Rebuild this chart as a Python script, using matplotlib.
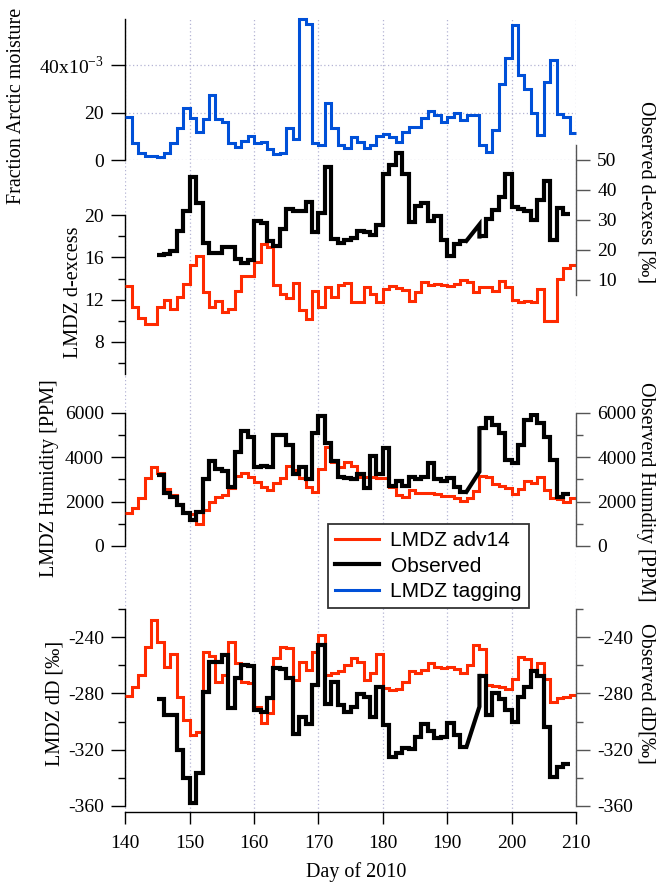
import numpy as np
import matplotlib
matplotlib.use('Agg')
import matplotlib.pyplot as plt
from matplotlib.lines import Line2D

plt.rcParams['font.family'] = ['Liberation Serif', 'DejaVu Serif']
plt.rcParams['mathtext.fontset'] = 'custom'
plt.rcParams['mathtext.rm'] = 'Liberation Serif'
plt.rcParams['axes.unicode_minus'] = False

# ---------------- data (daily values) ----------------
# model series: one value per day 140..209
model_edges = np.arange(140, 211)

arctic_frac = np.array([
    18.0, 7.4, 2.9, 1.8, 1.6, 1.5, 2.9, 7.1, 13.7, 21.8,
    17.6, 12.0, 17.3, 27.4, 17.3, 15.9, 7.4, 5.7, 8.1, 10.2,
    7.1, 7.8, 4.8, 2.7, 2.9, 13.7, 8.8, 59.5, 57.4, 7.1,
    6.4, 24.2, 13.4, 6.4, 5.3, 9.9, 7.8, 5.3, 6.4, 10.3,
    11.0, 9.9, 7.8, 12.0, 13.8, 13.8, 17.6, 20.7, 19.0, 16.2,
    18.0, 19.7, 16.9, 19.0, 19.0, 6.4, 3.6, 12.7, 31.9, 43.2,
    56.7, 35.8, 29.9, 20.0, 10.6, 33.0, 42.1, 19.3, 18.3, 11.6]) * 1e-3

lmdz_dex = [
    13.3, 11.3, 10.3, 9.7, 9.7, 11.3, 12.0, 11.1, 12.3, 13.5,
    15.3, 16.1, 12.7, 11.3, 11.9, 10.8, 11.1, 12.8, 14.2, 14.2,
    15.6, 17.3, 17.0, 13.4, 12.5, 12.2, 13.6, 11.0, 10.2, 12.8,
    11.3, 13.2, 12.3, 13.4, 13.6, 11.8, 11.8, 13.2, 12.5, 11.8,
    13.0, 13.3, 13.1, 12.9, 11.9, 12.7, 13.7, 13.4, 13.5, 13.4,
    13.3, 13.5, 13.9, 13.7, 12.7, 13.2, 13.2, 12.8, 13.8, 13.2,
    12.0, 11.8, 11.9, 11.8, 13.0, 10.0, 10.0, 14.0, 15.0, 15.3]

lmdz_hum = [
    1470, 1695, 2145, 3045, 3540, 3300, 2550, 2295, 1890, 1545,
    1440, 990, 1600, 1995, 2220, 2295, 2600, 3150, 3300, 3120,
    2895, 2670, 2520, 2820, 3045, 3600, 3420, 3045, 2670, 2445,
    3450, 4470, 3795, 3540, 3795, 3600, 3120, 3120, 3120, 3045,
    3045, 2670, 2295, 2220, 2520, 2400, 2400, 2400, 2340, 2250,
    2250, 2145, 2040, 2145, 2490, 3150, 3120, 2790, 2700, 2595,
    2340, 2550, 2940, 2820, 3120, 2520, 2145, 2100, 2000, 2145]

lmdz_dD = [
    -281.8, -275.2, -266.8, -246.7, -227.6, -243.1, -261.3, -251.9, -282.5, -298.9,
    -309.6, -307.2, -250.2, -253.3, -271.6, -266.8, -243.1, -258.5, -271.6, -272.7,
    -289.4, -301.3, -294.1, -254.9, -246.7, -247.8, -270.4, -257.3, -263.3, -250.2,
    -238.3, -266.8, -265.6, -263.8, -259.7, -254.9, -257.3, -270.4, -265.6, -251.9,
    -276.3, -277.5, -277.0, -271.6, -263.8, -265.6, -263.3, -258.0, -261.3, -262.1,
    -260.9, -262.8, -265.6, -259.7, -245.4, -248.5, -274.0, -274.7, -275.6, -277.0,
    -269.9, -254.2, -255.6, -263.3, -258.0, -269.9, -285.9, -283.4, -282.3, -281.1]

# observations: days 145..192, a gap, then days 195..208
obs_edges_a = np.arange(145, 194)
obs_edges_b = np.arange(195, 210)
gap_days = [193, 195]

obs_dex_a = [
    18.3, 18.7, 19.8, 26.4, 33.1, 44.4, 35.8, 22.4, 18.9, 18.9,
    21.1, 21.1, 16.9, 15.8, 16.7, 29.7, 29.1, 23.0, 21.3, 26.9,
    33.6, 33.1, 33.1, 36.1, 26.1, 32.4, 47.6, 23.6, 22.4, 23.3,
    24.1, 26.4, 26.1, 25.0, 28.3, 45.3, 48.3, 52.4, 45.3, 29.4,
    34.7, 35.8, 29.8, 31.3, 23.3, 18.0, 21.9, 23.1]
obs_dex_gap = 28.5
obs_dex_b = [24.5, 30.2, 33.3, 37.8, 45.3, 34.4, 33.7, 33.1, 30.0, 36.7,
             43.1, 23.3, 33.9, 32.0]

obs_hum_a = [
    3195, 2400, 2220, 1845, 1470, 1170, 1545, 3000, 3840, 3450,
    3390, 2670, 4245, 5190, 4890, 3540, 3600, 3540, 4995, 4995,
    4545, 3240, 3540, 3015, 5070, 5850, 4650, 3840, 3120, 3045,
    3000, 3240, 2595, 4050, 3240, 4395, 2700, 2940, 2700, 3120,
    3000, 3120, 3750, 3000, 2925, 3045, 2670, 2445]
obs_hum_gap = 3345
obs_hum_b = [5295, 5745, 5445, 5070, 3870, 3720, 4545, 5670, 5895, 5520,
             4920, 3870, 2220, 2340]

obs_dD_a = [
    -284.1, -295.3, -295.3, -320.0, -340.0, -358.0, -337.0, -279.0, -257.3, -257.3,
    -252.6, -290.6, -269.2, -259.7, -260.4, -291.8, -293.0, -283.4, -262.1, -262.8,
    -269.2, -308.9, -296.5, -301.8, -274.0, -245.4, -287.5, -271.6, -288.2, -293.0,
    -289.4, -280.4, -282.8, -297.0, -275.6, -302.5, -325.0, -322.2, -319.1, -319.8,
    -310.8, -301.8, -306.5, -312.0, -310.8, -301.3, -309.6, -317.9]
obs_dD_gap = -289.4
obs_dD_b = [-267.5, -295.3, -279.4, -284.2, -291.8, -300.1, -282.3, -275.6, -263.8, -267.5,
            -303.7, -339.3, -332.2, -330.3]

x_ticks = [140, 150, 160, 170, 180, 190, 200, 210]

# ---------------- style ----------------
RED = '#ff2a00'
BLUE = '#0050d8'
BLACK = 'black'
GRID = '#b4b4d4'
RGRAY = '#555555'
FS = 14          # tick labels
LFS = 14.5       # axis titles

W, H = 662, 884
X0, X1 = 125.3, 576.0

fig = plt.figure(figsize=(W / 100, H / 100), dpi=100)


def rect(top, bottom):
    # axes box from pixel rows (top, bottom)
    return [X0 / W, 1 - bottom / H, (X1 - X0) / W, (bottom - top) / H]


def panel(top, bottom, side):
    ax = fig.add_axes(rect(top, bottom), zorder=1)
    ax.patch.set_visible(False)
    ax.set_xlim(140, 210)
    ax.set_xticks([])
    for s in ax.spines:
        ax.spines[s].set_visible(s == side)
    col = BLACK if side == 'left' else RGRAY
    ax.spines[side].set_color(col)
    ax.spines[side].set_linewidth(1.0)
    ax.yaxis.set_ticks_position(side)
    ax.tick_params(axis='y', which='major', direction='out', length=10.3,
                   width=1.0, color=col, pad=5, labelsize=FS)
    ax.tick_params(axis='y', which='minor', direction='out', length=5.2,
                   width=1.0, color=col)
    return ax


def obs_line(ax, a, gap, b):
    ax.stairs(a, obs_edges_a, baseline=None, color=BLACK, lw=3.0, zorder=3)
    ax.plot([gap_days[0], gap_days[1], gap_days[1]], [a[-1], gap, b[0]],
            color=BLACK, lw=3.0, zorder=3, solid_joinstyle='miter')
    ax.stairs(b, obs_edges_b, baseline=None, color=BLACK, lw=3.0, zorder=3)


# background axis: day axis + vertical dotted grid
bg = fig.add_axes(rect(19, 811.5), zorder=0)
bg.patch.set_visible(False)
bg.set_xlim(140, 210)
bg.set_ylim(0, 1)
for s in ['left', 'right', 'top']:
    bg.spines[s].set_visible(False)
bg.spines['bottom'].set_linewidth(1.0)
bg.set_yticks([])
bg.set_xticks(x_ticks)
bg.tick_params(axis='x', direction='out', length=8.6, width=1.0, pad=8,
               labelsize=FS)
bg.grid(axis='x', color=GRID, linestyle=(0, (1, 2)), linewidth=0.9)

# top panel: fraction of arctic moisture
ax_top = panel(19, 160.3, 'left')
ax_top.set_ylim(0, 0.0594)
ax_top.set_yticks([0, 0.02, 0.04], labels=['0', '20', '40x10$^{-3}$'])
ax_top.grid(axis='y', color=GRID, linestyle=(0, (1, 2)), linewidth=0.9)
ax_top.stairs(arctic_frac, model_edges, baseline=None, color=BLUE, lw=2.2,
              zorder=3, clip_on=False)

# d-excess
ax_dex = panel(215.3, 373.5, 'left')
ax_dex.set_ylim(5, 20)
ax_dex.set_yticks([8, 12, 16, 20])
ax_dex.set_yticks([6, 10, 14, 18], minor=True)
ax_dex.stairs(lmdz_dex, model_edges, baseline=None, color=RED, lw=2.2, zorder=3)

ax_dex_r = panel(145, 295, 'right')
ax_dex_r.set_ylim(5, 55)
ax_dex_r.set_yticks([10, 20, 30, 40, 50])
obs_line(ax_dex_r, obs_dex_a, obs_dex_gap, obs_dex_b)

# humidity
ax_hum = panel(412.7, 546, 'left')
ax_hum.set_ylim(0, 6000)
ax_hum.set_yticks([0, 2000, 4000, 6000])
ax_hum.set_yticks([1000, 3000, 5000], minor=True)
ax_hum.stairs(lmdz_hum, model_edges, baseline=None, color=RED, lw=2.2, zorder=3)

ax_hum_r = panel(412.7, 546, 'right')
ax_hum_r.set_ylim(0, 6000)
ax_hum_r.set_yticks([0, 2000, 4000, 6000])
ax_hum_r.set_yticks([1000, 3000, 5000], minor=True)
obs_line(ax_hum_r, obs_hum_a, obs_hum_gap, obs_hum_b)

# dD
ax_dD = panel(609.3, 805.7, 'left')
ax_dD.set_ylim(-360, -220)
ax_dD.set_yticks([-360, -320, -280, -240])
ax_dD.set_yticks([-340, -300, -260, -220], minor=True)
ax_dD.stairs(lmdz_dD, model_edges, baseline=None, color=RED, lw=2.2, zorder=3)

ax_dD_r = panel(609.3, 805.7, 'right')
ax_dD_r.set_ylim(-360, -220)
ax_dD_r.set_yticks([-360, -320, -280, -240])
ax_dD_r.set_yticks([-340, -300, -260, -220], minor=True)
obs_line(ax_dD_r, obs_dD_a, obs_dD_gap, obs_dD_b)


# axis titles placed by pixel centre
def label(x, y, text, rot=0):
    fig.text(x / W, 1 - y / H, text, rotation=rot, ha='center', va='center',
             fontsize=LFS)


label(17, 106, 'Fraction Arctic moisture', 90)
label(74, 292, 'LMDZ d-excess', 90)
label(50, 478, 'LMDZ Humidity [PPM]', 90)
label(55, 703, 'LMDZ dD [‰]', 90)
label(646, 192, 'Observed d-exess [‰]', 270)
label(646, 492, 'Observerd Humdity [PPM]', 270)
label(646, 693, 'Observed dD[‰]', 270)
label(356, 872, 'Day of 2010')

# legend
handles = [Line2D([], [], color=RED, lw=2.2),
           Line2D([], [], color=BLACK, lw=3.0),
           Line2D([], [], color=BLUE, lw=2.2)]
leg = fig.legend(handles, ['LMDZ adv14', 'Observed', 'LMDZ tagging'],
                 loc='upper left', bbox_to_anchor=(328 / W, 1 - 524 / H),
                 borderaxespad=0, fancybox=False, framealpha=1,
                 edgecolor='#333333', handlelength=2.1, handletextpad=0.55,
                 labelspacing=0.3, borderpad=0.35,
                 prop={'family': 'Liberation Sans', 'size': 15})
leg.get_frame().set_linewidth(1.3)

fig.savefig('out.png', dpi=100)
